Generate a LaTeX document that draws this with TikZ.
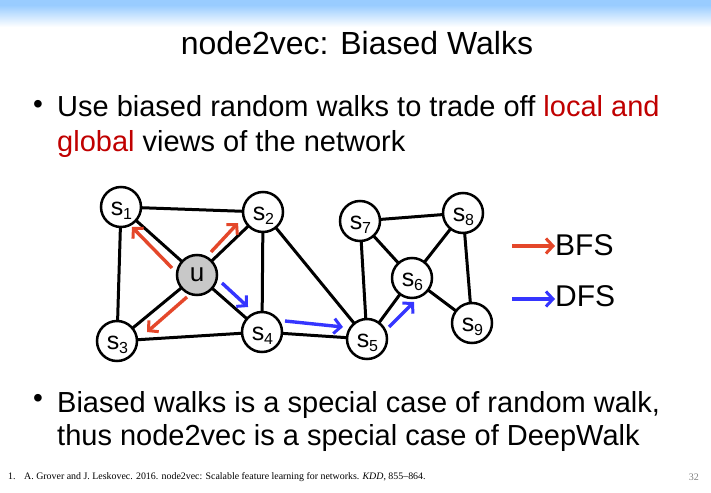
\documentclass[tikz,border=0pt]{standalone}
\usepackage{fontspec}
\setmainfont{Liberation Sans}
\newfontfamily\refont{Liberation Serif}
\usetikzlibrary{arrows.meta}
\pgfdeclarelayer{background}
\pgfsetlayers{background,main}
\definecolor{topblue}{HTML}{99CCFF}
\definecolor{bfsred}{HTML}{E4472A}
\definecolor{dfsblue}{HTML}{3535FF}
\definecolor{hlred}{HTML}{C00000}
\definecolor{ugray}{HTML}{C8C8C8}
\begin{document}
\begin{tikzpicture}[x=1pt,y=-1pt,
  vtx/.style={circle,draw=black,line width=2.5pt,fill=white,minimum size=40pt,inner sep=0pt,
              font=\fontsize{25}{25}\selectfont},
  sub/.style={inner sep=0pt,font=\fontsize{16}{16}\selectfont},
  edge/.style={line width=3pt,draw=black},
  walk/.style={line width=3.4pt,-{Straight Barb[length=7pt,width=15pt,line width=3pt]}},
  txt/.style={anchor=base west,inner sep=0pt,font=\fontsize{29}{29}\selectfont}]
\useasboundingbox (0,0) rectangle (711,492);
% top gradient (stepped fills)
\fill[topblue] (0,0) rectangle (711,5.5);
\foreach \i in {0,...,22}{
  \pgfmathsetmacro\p{100-\i*100/22}
  \fill[topblue!\p!white] (0,5+\i) rectangle (711,6.3+\i);
}
% title
\node[anchor=base,inner sep=0pt,font=\fontsize{32}{32}\selectfont] (title) at (357,55) {node2vec: Biased Walks};
% bullets
\node[anchor=center,inner sep=0pt,font=\fontsize{28}{28}\selectfont] (b1) at (38,107) {\textbullet};
\node[txt] (l1) at (57,117) {Use biased random walks to trade off \textcolor{hlred}{local and}};
\node[txt] (l2) at (57,151) {\textcolor{hlred}{global} views of the network};
\node[anchor=center,inner sep=0pt,font=\fontsize{28}{28}\selectfont] (b2) at (38,401) {\textbullet};
\node[txt] (l3) at (57,412) {Biased walks is a special case of random walk,};
\node[txt] (l4) at (57,445) {thus node2vec is a special case of DeepWalk};
% footnote
\node[anchor=base west,inner sep=0pt,font=\refont\fontsize{9.9}{10}\selectfont] (fn1) at (8,479) {1.};
\node[anchor=base west,inner sep=0pt,font=\refont\fontsize{9.9}{10}\selectfont] (fn) at (24,479) {A. Grover and J. Leskovec. 2016. node2vec: Scalable feature learning for networks. \textit{KDD}, 855–864.};
\node[anchor=base east,inner sep=0pt,font=\refont\fontsize{10}{10}\selectfont,text=gray] (pg) at (699,480) {32};
% graph nodes
\node[vtx] (s1) at (121,207) {};
\node[vtx] (s2) at (263,212) {};
\node[vtx,fill=ugray] (u) at (197,275) {};
\node[vtx] (s3) at (117,341) {};
\node[vtx] (s4) at (262,332) {};
\node[vtx] (s5) at (367,339) {};
\node[vtx] (s7) at (360,221) {};
\node[vtx] (s8) at (463,213) {};
\node[vtx] (s6) at (412,278) {};
\node[vtx] (s9) at (472,323) {};
% labels
\foreach \n/\k in {s1/1,s2/2,s3/3,s4/4,s5/5,s6/6,s7/7,s8/8,s9/9}{
  \node[inner sep=0pt,font=\fontsize{25}{25}\selectfont] (\n m) at ([xshift=-4pt,yshift=-2pt]\n.center) {s};
  \node[sub,anchor=west] (\n k) at ([xshift=-0.5pt,yshift=-5pt]\n m.east) {\k};
}
\node[inner sep=0pt,font=\fontsize{26}{26}\selectfont] (um) at (u.center) {u};
\begin{pgfonlayer}{background}
\foreach \a/\b in {s1/s2,s1/u,s1/s3,s2/u,s2/s4,s2/s5,u/s3,u/s4,s3/s4,s4/s5,s5/s7,s5/s6,s7/s6,s7/s8,s8/s6,s8/s9,s6/s9}
  \draw[edge] (\a.center) -- (\b.center);
\end{pgfonlayer}
% walk arrows
\coordinate (r1a) at (172,268); \coordinate (r1b) at (132,227);
\coordinate (r2a) at (211,252); \coordinate (r2b) at (238,223);
\coordinate (r3a) at (187,297); \coordinate (r3b) at (147,332);
\coordinate (d1a) at (222,283); \coordinate (d1b) at (248,307);
\coordinate (d2a) at (285,321); \coordinate (d2b) at (343,327);
\coordinate (d3a) at (389,327); \coordinate (d3b) at (414,302);
\draw[walk,bfsred] (r1a) -- (r1b);
\draw[walk,bfsred] (r2a) -- (r2b);
\draw[walk,bfsred] (r3a) -- (r3b);
\draw[walk,dfsblue] (d1a) -- (d1b);
\draw[walk,dfsblue] (d2a) -- (d2b);
\draw[walk,dfsblue] (d3a) -- (d3b);
% legend
\node[anchor=base west,inner sep=0pt,font=\fontsize{30}{30}\selectfont] (bfs) at (555,255) {BFS};
\node[anchor=base west,inner sep=0pt,font=\fontsize{30}{30}\selectfont] (dfs) at (555,306) {DFS};
\coordinate (lr) at (512,246);
\coordinate (lb) at (512,299);
\draw[walk,bfsred] (lr) -- (bfs.west |- lr);
\draw[walk,dfsblue] (lb) -- (dfs.west |- lb);
\end{tikzpicture}
\end{document}
